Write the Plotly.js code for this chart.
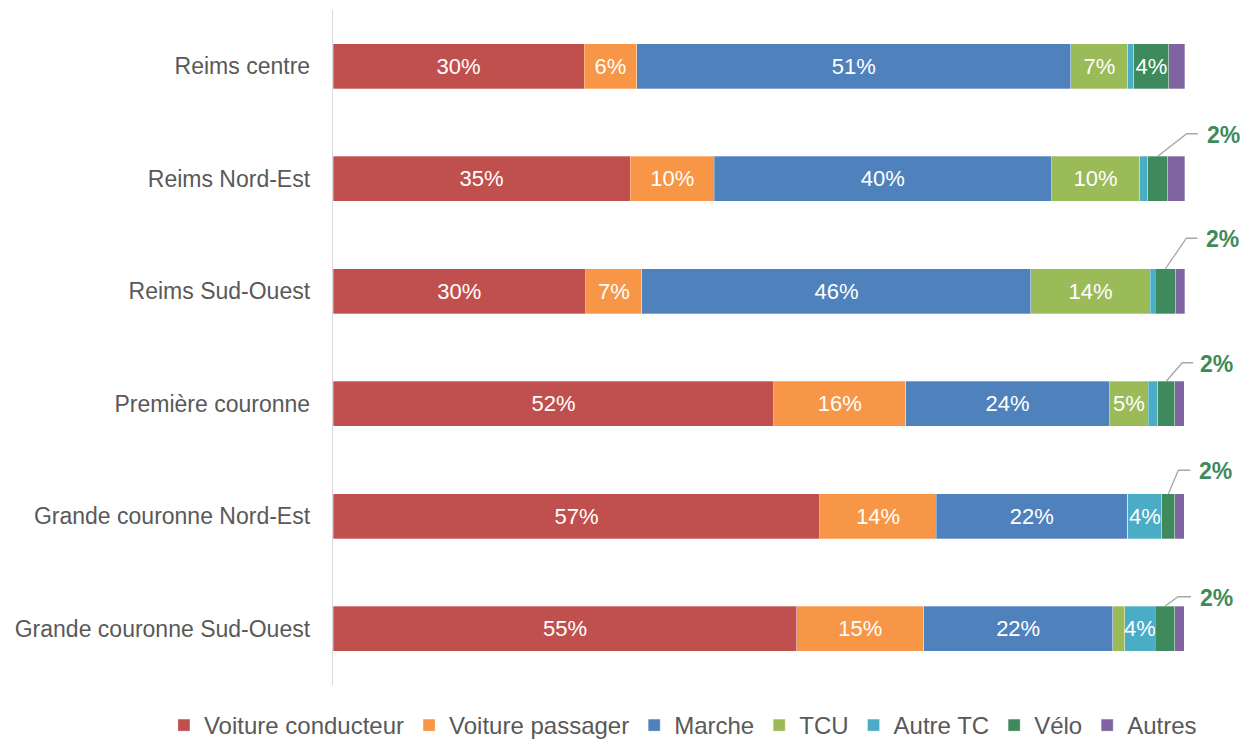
<!DOCTYPE html>
<html>
<head>
<meta charset="utf-8">
<script src="https://cdn.plot.ly/plotly-3.0.1.min.js"></script>
<style>html,body{margin:0;padding:0;background:#fff;}#chart{width:1242px;height:748px;}</style>
</head>
<body>
<div id="chart"></div>
<script>
var categories = ['Reims centre','Reims Nord-Est','Reims Sud-Ouest','Première couronne','Grande couronne Nord-Est','Grande couronne Sud-Ouest'];
var voitureConducteur = [29.5, 34.9, 29.7, 51.8, 57.2, 54.5];
var voiturePassager   = [6.2, 9.9, 6.6, 15.5, 13.7, 14.9];
var marche            = [51.0, 39.6, 45.7, 23.9, 22.4, 22.2];
var tcu               = [6.7, 10.4, 14.0, 4.6, 0.1, 1.4];
var autreTC           = [0.7, 0.9, 0.6, 1.1, 4.0, 3.6];
var velo              = [4.1, 2.4, 2.4, 2.0, 1.5, 2.3];
var autres            = [1.9, 2.0, 1.1, 1.1, 1.1, 1.1];

var seriesNames = ['Voiture conducteur','Voiture passager','Marche','TCU','Autre TC','Vélo','Autres'];
var seriesValues = [voitureConducteur, voiturePassager, marche, tcu, autreTC, velo, autres];
var seriesColors = ['#c0504d','#f79646','#4f81bd','#9bbb59','#4bacc6','#3f8a5c','#8064a2'];

// leader-line offsets in pixels (elbow dx, elbow dy, end dx, text dx) for outside Vélo labels
var leaderOffsets = [null, [29,45,40,47], [21,53,32,39], [16,41,27,32], [10,46,22,29], [13,32,26,33]];

var FONT = 'Liberation Sans, Arial, sans-serif';
var traces = seriesNames.map(function(name, i){
  var vals = seriesValues[i];
  return {
    type: 'bar', orientation: 'h', name: name,
    y: categories, x: vals,
    marker: {color: seriesColors[i], line: {color: 'rgba(255,255,255,0.5)', width: 0.6}},
    text: vals.map(function(v){ return v >= 3.5 ? Math.round(v) + '%' : ''; }),
    textposition: 'inside', insidetextanchor: 'middle', textangle: 0,
    constraintext: 'none',
    insidetextfont: {color: '#ffffff', size: 22, family: FONT},
    hoverinfo: 'none'
  };
});

var annotations = [], shapes = [];
var halfBar = 22.5;
categories.forEach(function(c, r){
  if (velo[r] >= 3.5) return;
  var before = voitureConducteur[r] + voiturePassager[r] + marche[r] + tcu[r] + autreTC[r];
  var mid = before + velo[r] / 2;
  var o = leaderOffsets[r];
  shapes.push({
    type: 'path', xref: 'x', yref: 'y', xsizemode: 'pixel', ysizemode: 'pixel',
    xanchor: mid, yanchor: r,
    path: 'M0,' + halfBar + ' L' + o[0] + ',' + o[1] + ' L' + o[2] + ',' + o[1],
    line: {color: '#a6a6a6', width: 1.3}
  });
  annotations.push({
    xref: 'x', yref: 'y', x: mid, y: r, xanchor: 'left', yanchor: 'middle',
    xshift: o[3], yshift: o[1] - 1, showarrow: false,
    text: '<b>' + Math.round(velo[r]) + '%</b>',
    font: {color: '#3f8a5c', size: 23, family: FONT}
  });
});

var layout = {
  width: 1242, height: 748,
  margin: {l: 333, r: 0, t: 10, b: 63},
  paper_bgcolor: '#ffffff', plot_bgcolor: '#ffffff',
  barmode: 'stack', bargap: 0.6,
  showlegend: true,
  legend: {orientation: 'h', x: -0.186, xanchor: 'left', y: -0.06, yanchor: 'middle',
           font: {size: 24, color: '#595959', family: FONT}, traceorder: 'normal'},
  xaxis: {range: [0, 106.8], visible: false, showgrid: false, zeroline: false, fixedrange: true},
  yaxis: {autorange: 'reversed', showline: true, linecolor: '#d9d9d9', linewidth: 1.3, ticks: '',
          showgrid: false, zeroline: false, ticklabelstandoff: 17,
          tickfont: {size: 23, color: '#595959', family: FONT}},
  annotations: annotations, shapes: shapes,
  font: {family: FONT, color: '#595959'},
  hovermode: false
};

Plotly.newPlot('chart', traces, layout, {displayModeBar: false, staticPlot: true});
</script>
</body>
</html>
